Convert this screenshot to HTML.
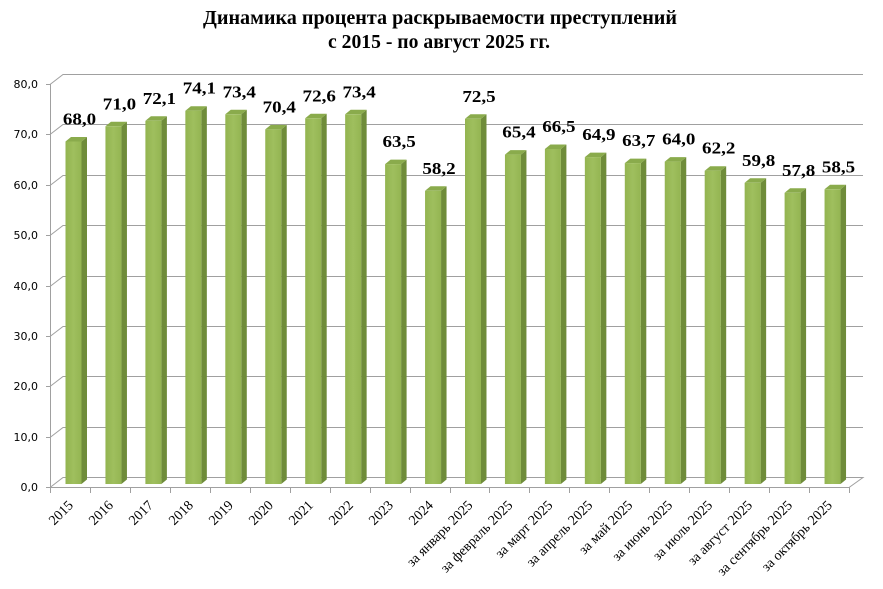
<!DOCTYPE html>
<html><head><meta charset="utf-8"><style>
html,body{margin:0;padding:0;background:#fff;}
svg{display:block;}
</style></head><body>
<svg width="883" height="589" viewBox="0 0 883 589" xmlns="http://www.w3.org/2000/svg">
<defs>
<linearGradient id="fg" x1="0" x2="1" y1="0" y2="0">
<stop offset="0" stop-color="#93b450"/><stop offset="0.5" stop-color="#9fbf5e"/><stop offset="1" stop-color="#94b552"/>
</linearGradient>
</defs>
<rect width="883" height="589" fill="#fff"/>
<g font-family="'Liberation Serif', serif" font-weight="bold" font-size="20" text-anchor="middle" fill="#000">
<text x="440" y="24" textLength="474" lengthAdjust="spacingAndGlyphs">Динамика процента раскрываемости преступлений</text>
<text x="439" y="48" textLength="222" lengthAdjust="spacingAndGlyphs">с 2015 - по август 2025 гг.</text>
</g>
<g stroke="#a0a0a0" stroke-width="1" fill="none">
<path d="M50 487.5 L63 477.5 L863 477.5 L849 487.5 Z"/>
<path d="M50 437.5 L63 427.5 L863 427.5"/>
<path d="M50 386.5 L63 376.5 L863 376.5"/>
<path d="M50 336.5 L63 326.5 L863 326.5"/>
<path d="M50 286.5 L63 276.5 L863 276.5"/>
<path d="M50 235.5 L63 225.5 L863 225.5"/>
<path d="M50 185.5 L63 175.5 L863 175.5"/>
<path d="M50 134.5 L63 124.5 L863 124.5"/>
<path d="M50 84.5 L63 74.5 L863 74.5"/>
<path d="M50.5 84 L50.5 488"/>
<path d="M46 487.5 H50 M46 437.5 H50 M46 386.5 H50 M46 336.5 H50 M46 286.5 H50 M46 235.5 H50 M46 185.5 H50 M46 134.5 H50 M46 84.5 H50"/>
<path d="M50.5 487V493 M90.5 487V493 M130.5 487V493 M170.5 487V493 M210.5 487V493 M250.5 487V493 M290.5 487V493 M330.5 487V493 M370.5 487V493 M410.5 487V493 M450.5 487V493 M489.5 487V493 M529.5 487V493 M569.5 487V493 M609.5 487V493 M649.5 487V493 M689.5 487V493 M729.5 487V493 M769.5 487V493 M809.5 487V493 M849.5 487V493"/>
</g>
<g font-family="'DejaVu Sans', sans-serif" font-size="11" text-anchor="end" fill="#000">
<text x="38" y="491">0,0</text>
<text x="38" y="441">10,0</text>
<text x="38" y="390">20,0</text>
<text x="38" y="340">30,0</text>
<text x="38" y="290">40,0</text>
<text x="38" y="239">50,0</text>
<text x="38" y="189">60,0</text>
<text x="38" y="138">70,0</text>
<text x="38" y="88">80,0</text>
</g>
<g>
<g transform="translate(65.5,0)"><polygon points="16,141.5 21.5,137 21.5,479.5 16,484" fill="#6f8c3a"/><polygon points="0,141.5 16,141.5 21.5,137 5.5,137" fill="#8aab4c"/><rect x="0" y="141.5" width="16" height="342.5" fill="url(#fg)"/></g>
<g transform="translate(105.45,0)"><polygon points="16,126.3 21.5,121.8 21.5,479.5 16,484" fill="#6f8c3a"/><polygon points="0,126.3 16,126.3 21.5,121.8 5.5,121.8" fill="#8aab4c"/><rect x="0" y="126.3" width="16" height="357.7" fill="url(#fg)"/></g>
<g transform="translate(145.4,0)"><polygon points="16,120.8 21.5,116.3 21.5,479.5 16,484" fill="#6f8c3a"/><polygon points="0,120.8 16,120.8 21.5,116.3 5.5,116.3" fill="#8aab4c"/><rect x="0" y="120.8" width="16" height="363.2" fill="url(#fg)"/></g>
<g transform="translate(185.35,0)"><polygon points="16,110.7 21.5,106.2 21.5,479.5 16,484" fill="#6f8c3a"/><polygon points="0,110.7 16,110.7 21.5,106.2 5.5,106.2" fill="#8aab4c"/><rect x="0" y="110.7" width="16" height="373.3" fill="url(#fg)"/></g>
<g transform="translate(225.3,0)"><polygon points="16,114.3 21.5,109.8 21.5,479.5 16,484" fill="#6f8c3a"/><polygon points="0,114.3 16,114.3 21.5,109.8 5.5,109.8" fill="#8aab4c"/><rect x="0" y="114.3" width="16" height="369.7" fill="url(#fg)"/></g>
<g transform="translate(265.25,0)"><polygon points="16,129.4 21.5,124.9 21.5,479.5 16,484" fill="#6f8c3a"/><polygon points="0,129.4 16,129.4 21.5,124.9 5.5,124.9" fill="#8aab4c"/><rect x="0" y="129.4" width="16" height="354.6" fill="url(#fg)"/></g>
<g transform="translate(305.2,0)"><polygon points="16,118.3 21.5,113.8 21.5,479.5 16,484" fill="#6f8c3a"/><polygon points="0,118.3 16,118.3 21.5,113.8 5.5,113.8" fill="#8aab4c"/><rect x="0" y="118.3" width="16" height="365.7" fill="url(#fg)"/></g>
<g transform="translate(345.15,0)"><polygon points="16,114.3 21.5,109.8 21.5,479.5 16,484" fill="#6f8c3a"/><polygon points="0,114.3 16,114.3 21.5,109.8 5.5,109.8" fill="#8aab4c"/><rect x="0" y="114.3" width="16" height="369.7" fill="url(#fg)"/></g>
<g transform="translate(385.1,0)"><polygon points="16,164.1 21.5,159.6 21.5,479.5 16,484" fill="#6f8c3a"/><polygon points="0,164.1 16,164.1 21.5,159.6 5.5,159.6" fill="#8aab4c"/><rect x="0" y="164.1" width="16" height="319.9" fill="url(#fg)"/></g>
<g transform="translate(425.05,0)"><polygon points="16,190.8 21.5,186.3 21.5,479.5 16,484" fill="#6f8c3a"/><polygon points="0,190.8 16,190.8 21.5,186.3 5.5,186.3" fill="#8aab4c"/><rect x="0" y="190.8" width="16" height="293.2" fill="url(#fg)"/></g>
<g transform="translate(465,0)"><polygon points="16,118.8 21.5,114.3 21.5,479.5 16,484" fill="#6f8c3a"/><polygon points="0,118.8 16,118.8 21.5,114.3 5.5,114.3" fill="#8aab4c"/><rect x="0" y="118.8" width="16" height="365.2" fill="url(#fg)"/></g>
<g transform="translate(504.95,0)"><polygon points="16,154.6 21.5,150.1 21.5,479.5 16,484" fill="#6f8c3a"/><polygon points="0,154.6 16,154.6 21.5,150.1 5.5,150.1" fill="#8aab4c"/><rect x="0" y="154.6" width="16" height="329.4" fill="url(#fg)"/></g>
<g transform="translate(544.9,0)"><polygon points="16,149 21.5,144.5 21.5,479.5 16,484" fill="#6f8c3a"/><polygon points="0,149 16,149 21.5,144.5 5.5,144.5" fill="#8aab4c"/><rect x="0" y="149" width="16" height="335" fill="url(#fg)"/></g>
<g transform="translate(584.85,0)"><polygon points="16,157.1 21.5,152.6 21.5,479.5 16,484" fill="#6f8c3a"/><polygon points="0,157.1 16,157.1 21.5,152.6 5.5,152.6" fill="#8aab4c"/><rect x="0" y="157.1" width="16" height="326.9" fill="url(#fg)"/></g>
<g transform="translate(624.8,0)"><polygon points="16,163.1 21.5,158.6 21.5,479.5 16,484" fill="#6f8c3a"/><polygon points="0,163.1 16,163.1 21.5,158.6 5.5,158.6" fill="#8aab4c"/><rect x="0" y="163.1" width="16" height="320.9" fill="url(#fg)"/></g>
<g transform="translate(664.75,0)"><polygon points="16,161.6 21.5,157.1 21.5,479.5 16,484" fill="#6f8c3a"/><polygon points="0,161.6 16,161.6 21.5,157.1 5.5,157.1" fill="#8aab4c"/><rect x="0" y="161.6" width="16" height="322.4" fill="url(#fg)"/></g>
<g transform="translate(704.7,0)"><polygon points="16,170.7 21.5,166.2 21.5,479.5 16,484" fill="#6f8c3a"/><polygon points="0,170.7 16,170.7 21.5,166.2 5.5,166.2" fill="#8aab4c"/><rect x="0" y="170.7" width="16" height="313.3" fill="url(#fg)"/></g>
<g transform="translate(744.65,0)"><polygon points="16,182.8 21.5,178.3 21.5,479.5 16,484" fill="#6f8c3a"/><polygon points="0,182.8 16,182.8 21.5,178.3 5.5,178.3" fill="#8aab4c"/><rect x="0" y="182.8" width="16" height="301.2" fill="url(#fg)"/></g>
<g transform="translate(784.6,0)"><polygon points="16,192.8 21.5,188.3 21.5,479.5 16,484" fill="#6f8c3a"/><polygon points="0,192.8 16,192.8 21.5,188.3 5.5,188.3" fill="#8aab4c"/><rect x="0" y="192.8" width="16" height="291.2" fill="url(#fg)"/></g>
<g transform="translate(824.55,0)"><polygon points="16,189.3 21.5,184.8 21.5,479.5 16,484" fill="#6f8c3a"/><polygon points="0,189.3 16,189.3 21.5,184.8 5.5,184.8" fill="#8aab4c"/><rect x="0" y="189.3" width="16" height="294.7" fill="url(#fg)"/></g>
</g>
<g font-family="'Liberation Serif', serif" font-weight="bold" font-size="17" text-anchor="middle" fill="#000">
<text transform="translate(79.5,124.5) scale(1.12,1)">68,0</text>
<text transform="translate(119.45,109.3) scale(1.12,1)">71,0</text>
<text transform="translate(159.4,103.8) scale(1.12,1)">72,1</text>
<text transform="translate(199.35,93.7) scale(1.12,1)">74,1</text>
<text transform="translate(239.3,97.3) scale(1.12,1)">73,4</text>
<text transform="translate(279.25,112.4) scale(1.12,1)">70,4</text>
<text transform="translate(319.2,101.3) scale(1.12,1)">72,6</text>
<text transform="translate(359.15,97.3) scale(1.12,1)">73,4</text>
<text transform="translate(399.1,147.1) scale(1.12,1)">63,5</text>
<text transform="translate(439.05,173.8) scale(1.12,1)">58,2</text>
<text transform="translate(479,101.8) scale(1.12,1)">72,5</text>
<text transform="translate(518.95,137.6) scale(1.12,1)">65,4</text>
<text transform="translate(558.9,132) scale(1.12,1)">66,5</text>
<text transform="translate(598.85,140.1) scale(1.12,1)">64,9</text>
<text transform="translate(638.8,146.1) scale(1.12,1)">63,7</text>
<text transform="translate(678.75,144.6) scale(1.12,1)">64,0</text>
<text transform="translate(718.7,153.7) scale(1.12,1)">62,2</text>
<text transform="translate(758.65,165.8) scale(1.12,1)">59,8</text>
<text transform="translate(798.6,175.8) scale(1.12,1)">57,8</text>
<text transform="translate(838.55,172.3) scale(1.12,1)">58,5</text>
</g>
<g font-family="'Liberation Serif', serif" font-size="14" text-anchor="end" fill="#000" xml:space="preserve">
<text transform="translate(74,506) rotate(-45)">2015</text>
<text transform="translate(114,506) rotate(-45)">2016</text>
<text transform="translate(154,506) rotate(-45)">2017</text>
<text transform="translate(194,506) rotate(-45)">2018</text>
<text transform="translate(234,506) rotate(-45)">2019</text>
<text transform="translate(274,506) rotate(-45)">2020</text>
<text transform="translate(314,506) rotate(-45)">2021</text>
<text transform="translate(354,506) rotate(-45)">2022</text>
<text transform="translate(394,506) rotate(-45)">2023</text>
<text transform="translate(434,506) rotate(-45)">2024</text>
<text transform="translate(473.5,506) rotate(-45)">за январь 2025</text>
<text transform="translate(513.4,506) rotate(-45)">за февраль 2025</text>
<text transform="translate(553.4,506) rotate(-45)">за март 2025</text>
<text transform="translate(593.3,506) rotate(-45)">за апрель 2025</text>
<text transform="translate(633.3,506) rotate(-45)">за май 2025</text>
<text transform="translate(673.2,506) rotate(-45)">за июнь  2025</text>
<text transform="translate(713.2,506) rotate(-45)">за июль 2025</text>
<text transform="translate(753.1,506) rotate(-45)">за август 2025</text>
<text transform="translate(793.1,506) rotate(-45)">за сентябрь 2025</text>
<text transform="translate(833,506) rotate(-45)">за октябрь 2025</text>
</g>
</svg>
</body></html>
